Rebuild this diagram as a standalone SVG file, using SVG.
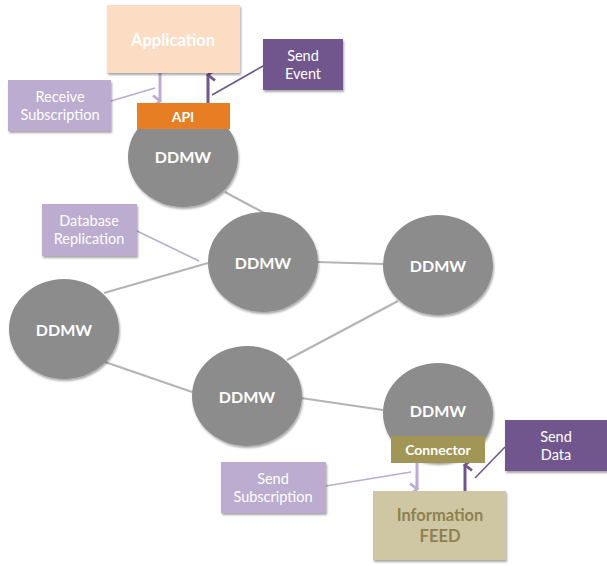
<svg xmlns="http://www.w3.org/2000/svg" width="607" height="566" viewBox="0 0 607 566">
  <style>
    text { font-family: Lato, "Open Sans", "Liberation Sans", sans-serif; text-anchor: middle; }
    .node { fill: #8c8c8c; filter: url(#shadow); }
    .ddmw { fill: #ffffff; font-size: 16px; font-weight: bold; }
    .label { fill: #ffffff; font-size: 14.5px; }
    .light { fill: #bcaccf; filter: url(#shadow); }
    .dark { fill: #6f578d; filter: url(#shadow); }
    .link { stroke: #b4b4b4; stroke-width: 2.2; fill: none; }
    .call-light { stroke: #bcaccf; stroke-width: 1.6; fill: none; }
    .call-dark { stroke: #6f578d; stroke-width: 1.6; fill: none; }
    .arrow-light { stroke: #bcaccf; stroke-width: 3; fill: none; }
    .arrow-dark { stroke: #6f578d; stroke-width: 3; fill: none; }
  </style>
  <defs>
    <filter id="shadow" x="-10%" y="-10%" width="125%" height="130%">
      <feGaussianBlur in="SourceAlpha" stdDeviation="1.2"/>
      <feOffset dx="0.5" dy="1.5" result="b"/>
      <feComponentTransfer><feFuncA type="linear" slope="0.35"/></feComponentTransfer>
      <feMerge><feMergeNode/><feMergeNode in="SourceGraphic"/></feMerge>
    </filter>
    <marker id="head-light" viewBox="0 0 14 12" refX="7" refY="2" markerWidth="14" markerHeight="12" markerUnits="userSpaceOnUse" orient="auto-start-reverse">
      <path d="M1.5,9 L7,2 L12.5,9" stroke="#bcaccf" stroke-width="2.8" fill="none"/>
    </marker>
    <marker id="head-dark" viewBox="0 0 14 12" refX="7" refY="2" markerWidth="14" markerHeight="12" markerUnits="userSpaceOnUse" orient="auto-start-reverse">
      <path d="M1.5,9 L7,2 L12.5,9" stroke="#6f578d" stroke-width="2.8" fill="none"/>
    </marker>
  </defs>

  <!-- links between middleware nodes and callout leader lines -->
  <g id="connectors">
    <line class="link" x1="225" y1="192" x2="266" y2="214"/>
    <line class="link" x1="208" y1="263" x2="104" y2="293"/>
    <line class="link" x1="317" y1="262" x2="384" y2="264"/>
    <line class="link" x1="398" y1="301" x2="287" y2="360"/>
    <line class="link" x1="105" y1="362" x2="195" y2="393"/>
    <line class="link" x1="301" y1="398" x2="383" y2="410"/>

    <line class="call-light" x1="111" y1="101" x2="155" y2="88"/>
    <line class="call-dark" x1="263" y1="66" x2="212" y2="95"/>
    <line class="call-light" x1="137" y1="231" x2="199" y2="261"/>
    <line class="call-light" x1="326" y1="486" x2="411" y2="472"/>
    <line class="call-dark" x1="505" y1="447" x2="475" y2="478"/>

    <line class="arrow-light" x1="160" y1="73" x2="160" y2="101" marker-end="url(#head-light)"/>
    <line class="arrow-dark" x1="208" y1="103" x2="208" y2="75" marker-end="url(#head-dark)"/>
    <line class="arrow-light" x1="417" y1="463" x2="417" y2="489" marker-end="url(#head-light)"/>
    <line class="arrow-dark" x1="465" y1="491" x2="465" y2="465" marker-end="url(#head-dark)"/>
  </g>

  <g id="application">
    <rect x="107" y="5" width="133" height="68" fill="#fcdcc3" filter="url(#shadow)"/>
    <text x="173" y="46" fill="#ffffff" font-size="16.5px" font-weight="bold">Application</text>
  </g>

  <g id="receive-subscription">
    <rect class="light" x="8" y="80" width="103" height="51"/>
    <text class="label" x="60" y="102">Receive</text>
    <text class="label" x="60" y="120">Subscription</text>
  </g>

  <g id="send-event">
    <rect class="dark" x="263" y="39" width="80" height="51"/>
    <text class="label" x="303" y="61">Send</text>
    <text class="label" x="303" y="79">Event</text>
  </g>

  <g id="ddmw-top">
    <ellipse class="node" cx="183" cy="157" rx="55" ry="50"/>
    <text class="ddmw" x="183" y="163">DDMW</text>
  </g>

  <g id="api">
    <rect x="137" y="103" width="93" height="26" fill="#e87e24"/>
    <text x="183" y="122" fill="#ffffff" font-size="14px" font-weight="bold">API</text>
  </g>

  <g id="database-replication">
    <rect class="light" x="42" y="204" width="95" height="52"/>
    <text class="label" x="89" y="226">Database</text>
    <text class="label" x="89" y="244">Replication</text>
  </g>

  <g id="ddmw-center">
    <ellipse class="node" cx="263" cy="262" rx="55" ry="50"/>
    <text class="ddmw" x="263" y="269">DDMW</text>
  </g>

  <g id="ddmw-right">
    <ellipse class="node" cx="438" cy="265" rx="55" ry="50"/>
    <text class="ddmw" x="438" y="272">DDMW</text>
  </g>

  <g id="ddmw-left">
    <ellipse class="node" cx="64" cy="329" rx="55" ry="50"/>
    <text class="ddmw" x="64" y="336">DDMW</text>
  </g>

  <g id="ddmw-lower">
    <ellipse class="node" cx="247" cy="396" rx="55" ry="50"/>
    <text class="ddmw" x="247" y="403">DDMW</text>
  </g>

  <g id="ddmw-feed">
    <ellipse class="node" cx="438" cy="413" rx="55" ry="50"/>
    <text class="ddmw" x="438" y="417">DDMW</text>
  </g>

  <g id="connector">
    <rect x="391" y="436" width="94" height="27" fill="#a19656"/>
    <text x="438" y="455" fill="#ffffff" font-size="14px" font-weight="bold">Connector</text>
  </g>

  <g id="send-subscription">
    <rect class="light" x="221" y="462" width="105" height="51"/>
    <text class="label" x="273" y="484">Send</text>
    <text class="label" x="273" y="502">Subscription</text>
  </g>

  <g id="send-data">
    <rect class="dark" x="505" y="420" width="103" height="51"/>
    <text class="label" x="556" y="442">Send</text>
    <text class="label" x="556" y="460">Data</text>
  </g>

  <g id="information-feed">
    <rect x="373" y="491" width="133" height="69" fill="#cfc7a3" filter="url(#shadow)"/>
    <text x="440" y="521" fill="#8d8150" font-size="16.5px" font-weight="bold">Information</text>
    <text x="440" y="542" fill="#8d8150" font-size="16.5px" font-weight="bold">FEED</text>
  </g>
</svg>
